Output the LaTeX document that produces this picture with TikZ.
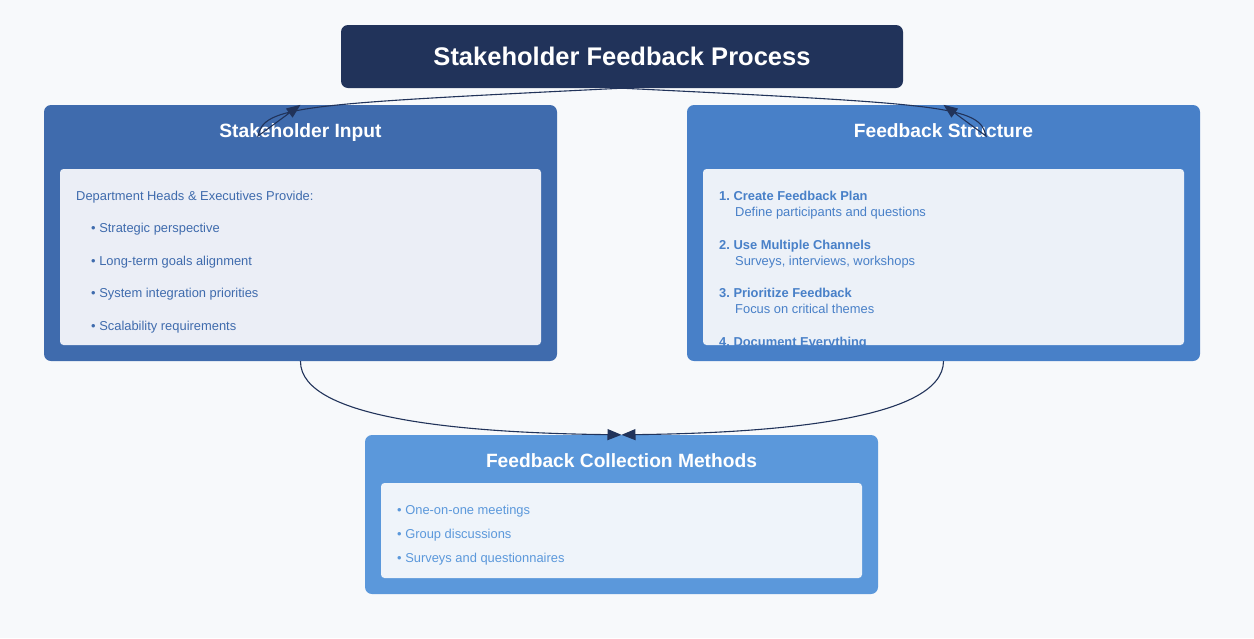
\documentclass[tikz,border=0pt]{standalone}
\usepackage{fontspec}
\setmainfont{Liberation Sans}
\usetikzlibrary{arrows.meta}
\frenchspacing
\definecolor{navy}{HTML}{21335A}
\definecolor{pagebg}{HTML}{F7F9FB}
\definecolor{inputblue}{HTML}{3F6BAD}
\definecolor{structblue}{HTML}{4880C8}
\definecolor{methodblue}{HTML}{5B98DB}
\definecolor{inputbody}{HTML}{EBEEF6}
\definecolor{structbody}{HTML}{ECF1F8}
\definecolor{methodbody}{HTML}{EFF4FA}

\begin{document}
\begin{tikzpicture}[x=1pt,y=-1pt,
  panel/.style={rounded corners=7pt, inner sep=0pt},
  body/.style={rounded corners=3.5pt, inner sep=0pt},
  head/.style={text=white, inner sep=0pt, anchor=base, font=\bfseries\fontsize{19.2}{22}\selectfont},
  txt/.style={anchor=base west, inner sep=0pt, font=\fontsize{12.9}{15}\selectfont},
  link/.style={draw=navy, line width=1.1pt, -{Triangle[length=14pt,width=11pt]}}]

  \fill[pagebg] (0,0) rectangle (1254,638);

  % title
  \node[panel, fill=navy, minimum width=562pt, minimum height=63pt] (title) at (622,56.5) {};
  \node[text=white, font=\bfseries\fontsize{25.5}{30}\selectfont] (titletext) at (622,56) {Stakeholder Feedback Process};

  % stakeholder input
  \node[panel, fill=inputblue, minimum width=513pt, minimum height=256pt] (input) at (300.5,233) {};
  \node[head] (inputhead) at (300.5,137) {Stakeholder Input};
  \node[body, fill=inputbody, minimum width=481pt, minimum height=176pt] (inbody) at (300.5,257) {};
  \node[txt, text=inputblue] (inlead) at (76,200.5) {Department Heads \& Executives Provide:};
  \foreach \t [count=\i] in {Strategic perspective, Long-term goals alignment, System integration priorities, Scalability requirements}
    \node[txt, text=inputblue] (in\i) at (91,200.5+32.4*\i) {• \t};

  % feedback structure
  \node[panel, fill=structblue, minimum width=513pt, minimum height=256pt] (struct) at (943.5,233) {};
  \node[head] (structhead) at (943.5,137) {Feedback Structure};
  \node[body, fill=structbody, minimum width=481pt, minimum height=176pt] (stbody) at (943.5,257) {};
  \foreach \a/\b [count=\i] in {1. Create Feedback Plan/Define participants and questions,
                                2. Use Multiple Channels/{Surveys, interviews, workshops},
                                3. Prioritize Feedback/Focus on critical themes}{
    \node[txt, text=structblue, font=\bfseries\fontsize{12.9}{15}\selectfont] (st\i) at (719,152+48.5*\i) {\a};
    \node[txt, text=structblue] (sub\i) at (735,168+48.5*\i) {\b};
  }
  \begin{scope}
    \clip (stbody.north west) rectangle (stbody.south east);
    \node[txt, text=structblue, font=\bfseries\fontsize{12.9}{15}\selectfont] (st4) at (719,346) {4. Document Everything};
  \end{scope}

  % collection methods
  \node[panel, fill=methodblue, minimum width=513pt, minimum height=159pt] (methods) at (621.5,514.5) {};
  \node[head] (methodshead) at (621.5,467) {Feedback Collection Methods};
  \node[body, fill=methodbody, minimum width=481pt, minimum height=95pt] (mbody) at (621.5,530.5) {};
  \foreach \t [count=\i] in {One-on-one meetings, Group discussions, Surveys and questionnaires}
    \node[txt, text=methodblue] (m\i) at (397,490.5+24*\i) {• \t};

  % connectors
  \coordinate (lhook) at (258,136);
  \coordinate (rhook) at (986,136);
  \draw[link] (title.south) .. controls (300,104) and (264,106) .. (lhook) -- (input.north);
  \draw[link] (title.south) .. controls (944,104) and (980,106) .. (rhook) -- (struct.north);
  \draw[link] (input.south) .. controls (300,420) and (470,433) .. (methods.north);
  \draw[link] (struct.south) .. controls (943,420) and (773,433) .. (methods.north);
\end{tikzpicture}
\end{document}
